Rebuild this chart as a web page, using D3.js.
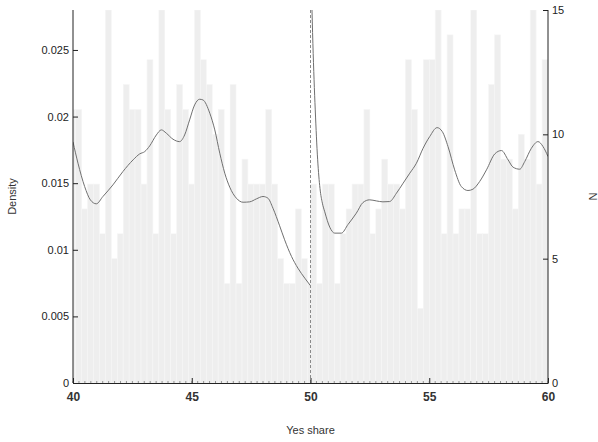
<!DOCTYPE html>
<html><head><meta charset="utf-8">
<script src="https://cdn.jsdelivr.net/npm/d3@7"></script>
<style>
body{margin:0;background:#fff;}
text{font-family:"Liberation Sans",Arial,sans-serif;}
</style></head>
<body><svg id="c" width="598" height="442"></svg>
<script>
// ---- data ----
const binWidth = 0.25;
const cutoff = 50;
const leftOrigin = 40.115;   // left-side bin edges: leftOrigin + k*binWidth (first bin partial)
const leftCounts = [11, 11,7,8,8,6,15,5,6,12,11, 11,8,13,6,15,11,6,12,11,8, 15,13,12,10,11,4,12,4,9,8, 8,8,11,8,5,4,4,7,5,4];
const rightCounts = [8,4,8,8,4,6,7,8,8,11, 6,7,9,8,8,7,13,11,3,13, 13,15,6,14,6,7,7,15,6,6, 12,14,9,9,7,10,9,15,8,13];
const leftDensX = [40.0,40.21,40.49,40.73,40.98,41.26,41.68,42.1,42.53,42.81,43.02,43.23,43.51,43.72,43.93,44.21,44.49,44.70,44.91,45.12,45.33,45.47,45.76,45.97,46.18,46.39,46.6,46.88,47.16,47.44,47.72,48.0,48.21,48.42,48.70,48.91,49.2,49.47,49.76,50.0];
const leftDensY = [0.0181,0.0165,0.01475,0.01375,0.01345,0.0140,0.01487,0.01587,0.01675,0.0172,0.01737,0.0178,0.01862,0.0190,0.01875,0.0183,0.01812,0.01862,0.01975,0.02087,0.0213,0.02125,0.02025,0.0190,0.01725,0.01575,0.0147,0.01387,0.01357,0.0136,0.01382,0.0140,0.01387,0.01312,0.0118,0.01075,0.0095,0.00862,0.00787,0.0073];
const rightDensX = [50.0,50.1,50.2,50.3,50.4,50.5,50.6,50.81,51.02,51.3,51.58,51.93,52.21,52.49,52.77,53.05,53.33,53.62,53.9,54.18,54.46,54.74,55.02,55.33,55.55,55.79,56.07,56.35,56.63,56.84,57.12,57.41,57.76,58.04,58.32,58.53,58.81,59.02,59.3,59.58,59.79,60.0];
const rightDensY = [0.0330,0.0255,0.0205,0.0168,0.0146,0.0135,0.01285,0.0117,0.01125,0.01125,0.0119,0.01275,0.01355,0.01375,0.01367,0.0136,0.01362,0.01425,0.0150,0.01575,0.0165,0.01762,0.0185,0.01917,0.01887,0.01775,0.0160,0.01475,0.01445,0.01455,0.01512,0.0160,0.0172,0.01745,0.01675,0.0162,0.01605,0.01662,0.01762,0.01812,0.01775,0.0170];
const xTicks = [40,45,50,55,60];
const densTicks = [0,0.005,0.01,0.015,0.02,0.025];
const nTicks = [0,5,10,15];

// ---- layout ----
const W = 598, H = 442;
const m = {l:73, r:50, t:10, b:59};
const iw = W - m.l - m.r, ih = H - m.t - m.b;
const svg = d3.select("#c");
const g = svg.append("g").attr("transform", `translate(${m.l},${m.t})`);

const x = d3.scaleLinear().domain([40,60]).range([0,iw]);
const yD = d3.scaleLinear().domain([0,0.028]).range([ih,0]);
const yN = d3.scaleLinear().domain([0,15]).range([ih,0]);

svg.append("defs").append("clipPath").attr("id","clip")
  .append("rect").attr("width",iw).attr("height",ih);
const plot = g.append("g").attr("clip-path","url(#clip)");

// bins
const bins = [];
leftCounts.forEach((c,i)=>{
  const a = Math.max(40, leftOrigin + (i-1)*binWidth);
  const b = Math.min(cutoff, leftOrigin + i*binWidth);
  bins.push({x0:a,x1:b,n:c});
});
rightCounts.forEach((c,i)=>{
  bins.push({x0:cutoff + i*binWidth, x1:cutoff+(i+1)*binWidth, n:c});
});
plot.selectAll("rect.bar").data(bins).join("rect")
  .attr("class","bar")
  .attr("x",d=>x(d.x0)).attr("width",d=>x(d.x1)-x(d.x0))
  .attr("y",d=>yN(d.n)).attr("height",d=>yN(0)-yN(d.n))
  .attr("fill","#eeeeee").attr("stroke","#f6f6f6").attr("stroke-width",0.6);

// dashed cutoff
g.append("line").attr("x1",x(cutoff)).attr("x2",x(cutoff)).attr("y1",0).attr("y2",ih)
  .attr("stroke","#8a8a8a").attr("stroke-width",1).attr("stroke-dasharray","3,2");

// density lines
const line = d3.line().x(d=>x(d[0])).y(d=>yD(d[1])).curve(d3.curveMonotoneX);
plot.append("path").datum(d3.zip(leftDensX,leftDensY)).attr("d",line)
  .attr("fill","none").attr("stroke","#707070").attr("stroke-width",1);
plot.append("path").datum(d3.zip(rightDensX,rightDensY)).attr("d",line)
  .attr("fill","none").attr("stroke","#707070").attr("stroke-width",1);

// axes
const axCol = "#222";
const xAx = g.append("g").attr("transform",`translate(0,${ih})`)
  .call(d3.axisBottom(x).tickValues(xTicks).tickSizeInner(-5).tickSizeOuter(0).tickPadding(9).tickFormat(d3.format("d")));
const minor = d3.range(40,60.001,binWidth);
g.append("g").attr("transform",`translate(0,${ih})`).selectAll("line").data(minor).join("line")
  .attr("x1",d=>x(d)).attr("x2",d=>x(d)).attr("y1",0).attr("y2",-2).attr("stroke","#555").attr("stroke-width",0.6);
const yAxL = g.append("g")
  .call(d3.axisLeft(yD).tickValues(densTicks).tickSizeInner(-5).tickSizeOuter(0).tickPadding(4).tickFormat(d=>d===0?"0":d3.format("")(+d.toFixed(3))));
const yAxR = g.append("g").attr("transform",`translate(${iw},0)`)
  .call(d3.axisRight(yN).tickValues(nTicks).tickSizeInner(-5).tickSizeOuter(0).tickPadding(4));
[xAx,yAxL,yAxR].forEach(a=>{
  a.select(".domain").attr("stroke",axCol).attr("stroke-width",1);
  a.selectAll(".tick line").attr("stroke",axCol);
  a.selectAll("text").attr("fill","#222").attr("font-size",11).attr("font-family","Liberation Sans, Arial, sans-serif");
});
xAx.selectAll("text").attr("font-size",12).attr("font-weight","bold").attr("fill","#333");
// full-height domain lines
yAxL.select(".domain").attr("d",`M0,0V${ih}`);
yAxR.select(".domain").attr("d",`M0,0V${ih}`);

// titles
svg.append("text").attr("x",m.l+iw/2).attr("y",434).attr("text-anchor","middle")
  .attr("font-size",11).attr("fill","#333").text("Yes share");
svg.append("text").attr("transform",`translate(16,${m.t+ih/2}) rotate(-90)`).attr("text-anchor","middle")
  .attr("font-size",11).attr("fill","#333").text("Density");
svg.append("text").attr("transform",`translate(589,${m.t+ih/2}) rotate(90)`).attr("text-anchor","middle")
  .attr("font-size",11).attr("fill","#333").text("N");
</script></body></html>
